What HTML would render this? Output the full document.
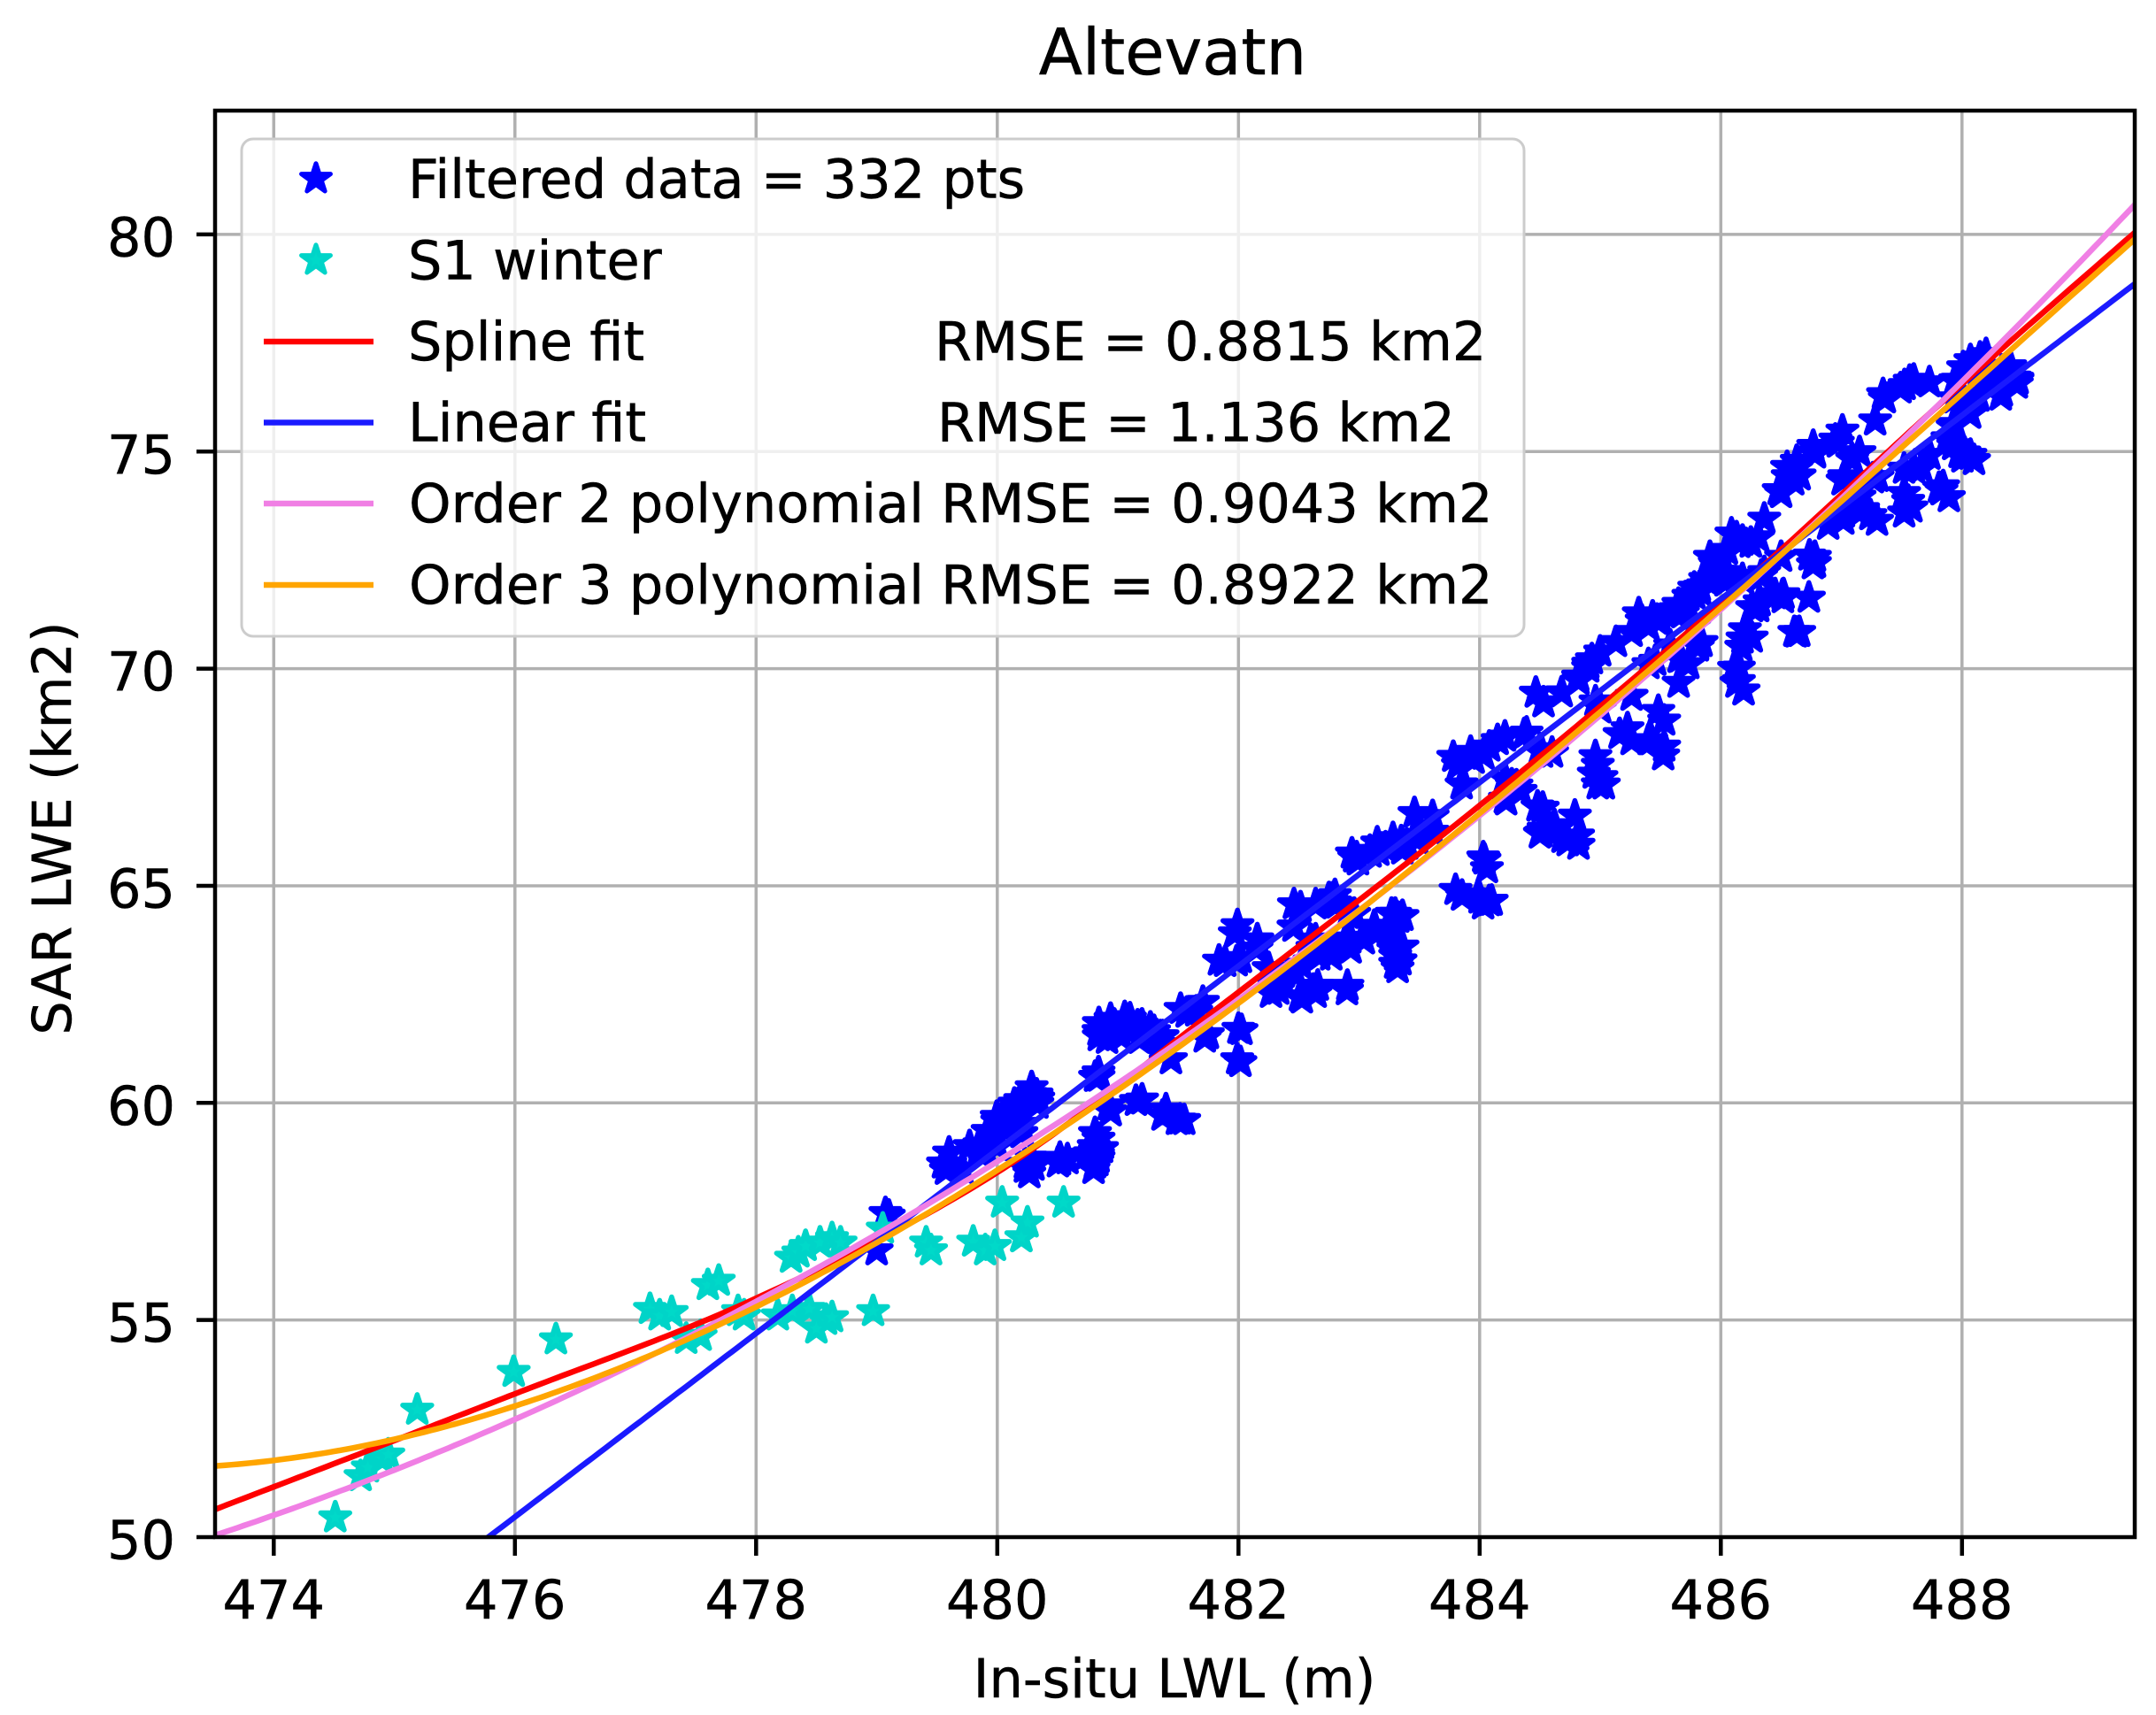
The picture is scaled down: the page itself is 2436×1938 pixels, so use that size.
<!DOCTYPE html>
<html>
<head>
<meta charset="utf-8">
<style>
html,body{margin:0;padding:0;background:#fff;}
svg{display:block;}
text{font-family:"DejaVu Sans","Liberation Sans",sans-serif;fill:#000;stroke:#000;stroke-width:0.5;}
</style>
</head>
<body>
<svg id="c" xmlns="http://www.w3.org/2000/svg" width="2436" height="1938" viewBox="0 0 2436 1938">
<defs>
<clipPath id="ax"><rect x="243" y="125" width="2169" height="1612"/></clipPath>
<path id="s" d="M0,-17.3L3.88,-5.35L16.45,-5.35L6.28,2.04L10.17,14L0,6.61L-10.17,14L-6.28,2.04L-16.45,-5.35L-3.88,-5.35Z"/>
</defs>
<rect width="2436" height="1938" fill="#fff"/>
<g stroke="#b0b0b0" stroke-width="3.5">
<line x1="309.3" y1="125" x2="309.3" y2="1737"/>
<line x1="581.8" y1="125" x2="581.8" y2="1737"/>
<line x1="854.3" y1="125" x2="854.3" y2="1737"/>
<line x1="1126.8" y1="125" x2="1126.8" y2="1737"/>
<line x1="1399.3" y1="125" x2="1399.3" y2="1737"/>
<line x1="1671.8" y1="125" x2="1671.8" y2="1737"/>
<line x1="1944.3" y1="125" x2="1944.3" y2="1737"/>
<line x1="2216.8" y1="125" x2="2216.8" y2="1737"/>
<line x1="243" y1="1491.65" x2="2412" y2="1491.65"/>
<line x1="243" y1="1246.3" x2="2412" y2="1246.3"/>
<line x1="243" y1="1000.95" x2="2412" y2="1000.95"/>
<line x1="243" y1="755.6" x2="2412" y2="755.6"/>
<line x1="243" y1="510.25" x2="2412" y2="510.25"/>
<line x1="243" y1="264.9" x2="2412" y2="264.9"/>
</g>
<g id="blue" clip-path="url(#ax)" fill="#0000ff" stroke="#0000ff" stroke-width="5.5" stroke-linejoin="round"></g>
<g id="cyan" clip-path="url(#ax)" fill="#00d9c9" stroke="#00d4c8" stroke-width="5.5" stroke-linejoin="round"></g>
<g id="lines" clip-path="url(#ax)" fill="none" stroke-width="6.5" stroke-linecap="butt"></g>
<rect x="243" y="125" width="2169" height="1612" fill="none" stroke="#000" stroke-width="4.5"/>
<g stroke="#000" stroke-width="4.5">
<line x1="309.3" y1="1737" x2="309.3" y2="1758"/>
<line x1="581.8" y1="1737" x2="581.8" y2="1758"/>
<line x1="854.3" y1="1737" x2="854.3" y2="1758"/>
<line x1="1126.8" y1="1737" x2="1126.8" y2="1758"/>
<line x1="1399.3" y1="1737" x2="1399.3" y2="1758"/>
<line x1="1671.8" y1="1737" x2="1671.8" y2="1758"/>
<line x1="1944.3" y1="1737" x2="1944.3" y2="1758"/>
<line x1="2216.8" y1="1737" x2="2216.8" y2="1758"/>
<line x1="222" y1="1737" x2="243" y2="1737"/>
<line x1="222" y1="1491.65" x2="243" y2="1491.65"/>
<line x1="222" y1="1246.3" x2="243" y2="1246.3"/>
<line x1="222" y1="1000.95" x2="243" y2="1000.95"/>
<line x1="222" y1="755.6" x2="243" y2="755.6"/>
<line x1="222" y1="510.25" x2="243" y2="510.25"/>
<line x1="222" y1="264.9" x2="243" y2="264.9"/>
</g>
<g font-size="60.5" text-anchor="middle">
<text x="309.3" y="1829">474</text>
<text x="581.8" y="1829">476</text>
<text x="854.3" y="1829">478</text>
<text x="1126.8" y="1829">480</text>
<text x="1399.3" y="1829">482</text>
<text x="1671.8" y="1829">484</text>
<text x="1944.3" y="1829">486</text>
<text x="2216.8" y="1829">488</text>
</g>
<g font-size="60.5" text-anchor="end">
<text x="198" y="1761.5">50</text>
<text x="198" y="1516.2">55</text>
<text x="198" y="1270.8">60</text>
<text x="198" y="1025.5">65</text>
<text x="198" y="780.1">70</text>
<text x="198" y="534.8">75</text>
<text x="198" y="289.4">80</text>
</g>
<text x="1325" y="84" font-size="72" text-anchor="middle">Altevatn</text>
<text x="1327" y="1918" font-size="60.5" text-anchor="middle">In-situ LWL (m)</text>
<text transform="translate(80,936) rotate(-90)" font-size="60.5" text-anchor="middle">SAR LWE (km2)</text>
<g id="legend">
<rect x="273" y="157" width="1449" height="562" rx="13" ry="13" fill="#fff" fill-opacity="0.8" stroke="#cccccc" stroke-width="3"/>
<use href="#s" x="357" y="202" fill="#0000ff" stroke="#0000ff" stroke-width="5" stroke-linejoin="round"/>
<use href="#s" x="357" y="294" fill="#00d9c9" stroke="#00d4c8" stroke-width="5" stroke-linejoin="round"/>
<line x1="298" y1="386" x2="422" y2="386" stroke="#ff0000" stroke-width="6.5"/>
<line x1="298" y1="477.5" x2="422" y2="477.5" stroke="#1a1aff" stroke-width="6.5"/>
<line x1="298" y1="569" x2="422" y2="569" stroke="#f07fe4" stroke-width="6.5"/>
<line x1="298" y1="661" x2="422" y2="661" stroke="#ffa500" stroke-width="6.5"/>
<g font-size="60.5">
<text x="461" y="223.5">Filtered data = 332 pts</text>
<text x="461" y="315.5">S1 winter</text>
<text x="461" y="407">Spline fit</text>
<text x="1056" y="407">RMSE = 0.8815 km2</text>
<text x="461" y="498.5">Linear fit</text>
<text x="1059" y="498.5">RMSE = 1.136 km2</text>
<text x="462" y="590">Order 2 polynomial RMSE = 0.9043 km2</text>
<text x="462" y="682">Order 3 polynomial RMSE = 0.8922 km2</text>
</g>
</g>
</svg>
<script>
(function(){
var ns="http://www.w3.org/2000/svg";
function X(x){return 309.3+(x-474)*136.25;}
function Y(y){return 1737-(y-50)*49.07;}
var B=[
[479.1,57.4],[479.0,56.6],[479.55,58.6],[479.6,58.85],[479.61,58.6],[479.71,58.47],[479.77,59.0],[479.85,59.04],[479.88,59.0],[479.9,58.95],
[479.92,59.35],[480.0,59.0],[480.0,59.57],[480.06,59.67],[480.07,59.38],[480.1,59.43],[480.15,59.52],[480.19,60.06],[480.2,59.3],[480.23,58.5],
[480.23,58.59],[480.28,60.2],[480.3,58.55],[480.32,60.16],[480.34,60.1],[480.52,58.67],[480.52,58.73],[480.8,59.0],[480.81,58.9],[480.81,58.6],
[480.81,59.3],[480.83,58.65],[480.84,59.17],[480.84,58.73],[480.84,60.6],[480.84,60.7],[480.84,61.65],[480.91,61.47],[480.94,59.8],[480.97,61.8],
[481.03,61.53],[481.1,61.94],[481.15,60.04],[481.18,61.47],[481.2,61.8],[481.27,61.73],[481.3,61.65],[481.35,61.35],[481.37,61.53],[481.37,59.7],
[481.44,61.0],[481.49,59.6],[481.52,62.16],[481.55,59.6],[481.72,61.5],[481.97,63.9],[481.89,63.24],[482.0,61.7],[481.99,61.0],[482.02,63.33],
[482.15,63.55],[482.27,62.53],[482.33,62.6],[482.46,64.06],[482.46,64.57],[482.51,62.45],[482.52,63.18],[482.62,62.6],[482.64,64.57],[482.64,63.76],
[482.64,62.53],[482.67,63.39],[482.75,64.71],[482.77,63.39],[482.77,64.7],[482.8,64.78],[482.9,62.59],[482.9,63.7],[482.93,63.55],[482.96,64.35],
[482.96,65.65],[482.98,65.65],[483.04,63.76],[483.09,65.8],[483.14,63.9],[483.16,65.8],[483.22,65.88],[483.25,63.98],[483.27,64.35],[483.3,64.35],
[483.3,63.39],[483.3,63.5],[483.3,63.2],[483.32,63.1],[483.32,63.55],[483.35,66.02],[483.36,64.3],[483.4,65.94],[483.46,66.16],[483.46,66.67],
[483.61,66.6],[483.61,66.24],[483.8,64.9],[483.82,67.78],[483.85,67.33],[483.95,67.92],[483.99,64.8],[484.0,64.7],[484.03,65.65],[484.04,65.6],
[484.06,65.4],[484.08,68.2],[484.1,64.65],[484.21,68.43],[484.21,67.47],[484.34,67.18],[484.37,68.49],[484.48,66.82],[484.5,68.14],[484.5,66.2],
[484.53,66.31],[484.53,69.22],[484.62,66.39],[484.68,69.45],[484.73,66.02],[484.79,66.61],[484.82,65.94],[484.82,69.73],[484.9,70.02],[484.96,67.98],
[484.98,67.78],[484.98,67.33],[485.0,70.39],[485.01,67.5],[485.13,70.61],[485.16,68.49],[485.26,68.35],[485.26,69.37],[485.26,70.84],[485.32,71.27],
[485.4,70.98],[485.4,68.35],[485.47,71.12],[485.5,71.12],[485.53,68.8],[485.53,68.2],[485.58,70.53],[485.63,71.27],[485.65,69.67],[485.65,70.24],
[485.68,71.27],[485.73,70.1],[485.78,71.71],[485.78,71.86],[485.81,70.53],[485.84,70.61],[485.87,72.06],[485.91,72.57],[485.95,72.43],[486.05,72.73],
[486.05,72.22],[486.13,73.02],[486.13,69.67],[486.15,70.02],[486.15,69.71],[486.18,72.94],[486.18,70.69],[486.2,70.9],[486.26,71.41],[486.31,73.02],
[486.31,71.41],[486.36,73.45],[486.45,71.71],[486.5,74.04],[486.52,71.71],[486.55,74.64],[486.6,74.33],[486.61,70.84],[486.63,74.78],[486.65,70.84],
[486.73,71.63],[486.78,74.98],[486.78,74.95],[486.78,72.43],[486.89,73.31],[486.95,75.27],[486.97,75.2],[487.01,74.33],[487.02,73.59],[487.03,74.4],
[487.15,74.98],[487.15,73.96],[487.18,73.67],[487.24,73.53],[487.28,75.71],[487.3,74.41],[487.36,76.22],[487.49,76.45],[487.52,73.59],[487.52,74.04],
[487.6,76.65],[487.6,74.61],[487.73,76.59],[487.73,74.92],[487.81,74.16],[487.83,74.1],[487.94,75.63],[487.96,76.65],[487.98,74.96],[488.02,76.08],
[488.07,74.92],[488.07,77.1],[488.07,76.22],[488.1,74.8],[488.15,77.16],[488.2,77.24],[488.33,76.37],[488.33,76.86],[488.4,76.96],[488.44,76.7],
[488.46,76.65],[486.36,72.22],[486.5,72.57],[486.78,72.57],[487.15,73.6],[487.52,74.6],[487.88,75.3],[487.94,76.22],[488.2,76.65],[484.21,67.0],
[484.6,68.06],[485.0,69.08],[485.4,70.1],[485.78,70.98],[486.18,72.06],[481.65,62.1],[482.25,63.1]
];
var C=[
[474.51,50.45],[474.72,51.4],[474.78,51.6],[474.9,51.8],[474.95,51.9],[475.19,52.93],[475.99,53.8],[476.34,54.55],[477.12,55.25],[477.2,55.1],
[477.3,55.18],[477.42,54.56],[477.54,54.63],[477.6,55.8],[477.69,55.9],[477.85,55.2],[477.9,55.1],[478.18,55.1],[478.29,56.43],[478.35,56.55],
[478.41,56.7],[478.53,56.78],[478.63,56.88],[478.7,56.78],[478.3,55.2],[478.44,55.25],[478.58,55.0],[478.5,54.8],[478.63,55.06],[478.97,55.2],
[479.05,57.1],[479.41,56.78],[479.45,56.6],[479.8,56.8],[479.9,56.6],[479.98,56.7],[480.04,57.7],[480.25,57.24],[480.2,56.9],[480.55,57.7]
];
var seed=12345;
function rnd(){seed=(seed*1103515245+12345)%2147483648;return seed/2147483648;}
var B2=B.slice();
for(var k=0;k<B.length;k++){
  if(rnd()<0.7){
    B2.push([B[k][0]+(rnd()-0.5)*0.14,B[k][1]+(rnd()-0.5)*0.45]);
  }
}
function stars(id,arr){
  var g=document.getElementById(id);
  for(var i=0;i<arr.length;i++){
    var u=document.createElementNS(ns,'use');
    u.setAttribute('href','#s');
    u.setAttributeNS('http://www.w3.org/1999/xlink','xlink:href','#s');
    u.setAttribute('x',X(arr[i][0]).toFixed(1));
    u.setAttribute('y',Y(arr[i][1]).toFixed(1));
    g.appendChild(u);
  }
}
stars('blue',B2);
stars('cyan',C);
var A=[[473.3,50.41],[476,53.3],[478,55.5],[480,58.4],[482,62.55],[484,66.85],[486,71.5],[488,76.55],[489.6,80.45]];
var M=[];
for(var i=0;i<A.length;i++){
  if(i===0) M.push((A[1][1]-A[0][1])/(A[1][0]-A[0][0]));
  else if(i===A.length-1) M.push((A[i][1]-A[i-1][1])/(A[i][0]-A[i-1][0]));
  else M.push((A[i+1][1]-A[i-1][1])/(A[i+1][0]-A[i-1][0]));
}
function red(x){
  var i=0;
  while(i<A.length-2 && x>A[i+1][0]) i++;
  var h=A[i+1][0]-A[i][0], s=(x-A[i][0])/h;
  var s2=s*s,s3=s2*s;
  return (2*s3-3*s2+1)*A[i][1]+(s3-2*s2+s)*h*M[i]+(-2*s3+3*s2)*A[i+1][1]+(s3-s2)*h*M[i+1];
}
function pink(x){var t=x-480;return 58.65+1.738*t+0.0634*t*t;}
function orange(x){var t=x-480;return 58.45+1.762*t+0.0871*t*t-0.00349*t*t*t;}
function lin(x){return 50+2.114*(x-475.78);}
function draw(f,col){
  var d='';
  for(var x=473.3;x<=489.65;x+=0.05){
    d+=(d?'L':'M')+X(x).toFixed(1)+','+Y(f(x)).toFixed(1);
  }
  var p=document.createElementNS(ns,'path');
  p.setAttribute('d',d);
  p.setAttribute('stroke',col);
  document.getElementById('lines').appendChild(p);
}
draw(red,'#ff0000');
draw(lin,'#1a1aff');
draw(pink,'#f07fe4');
draw(orange,'#ffa500');
})();
</script>
</body>
</html>
